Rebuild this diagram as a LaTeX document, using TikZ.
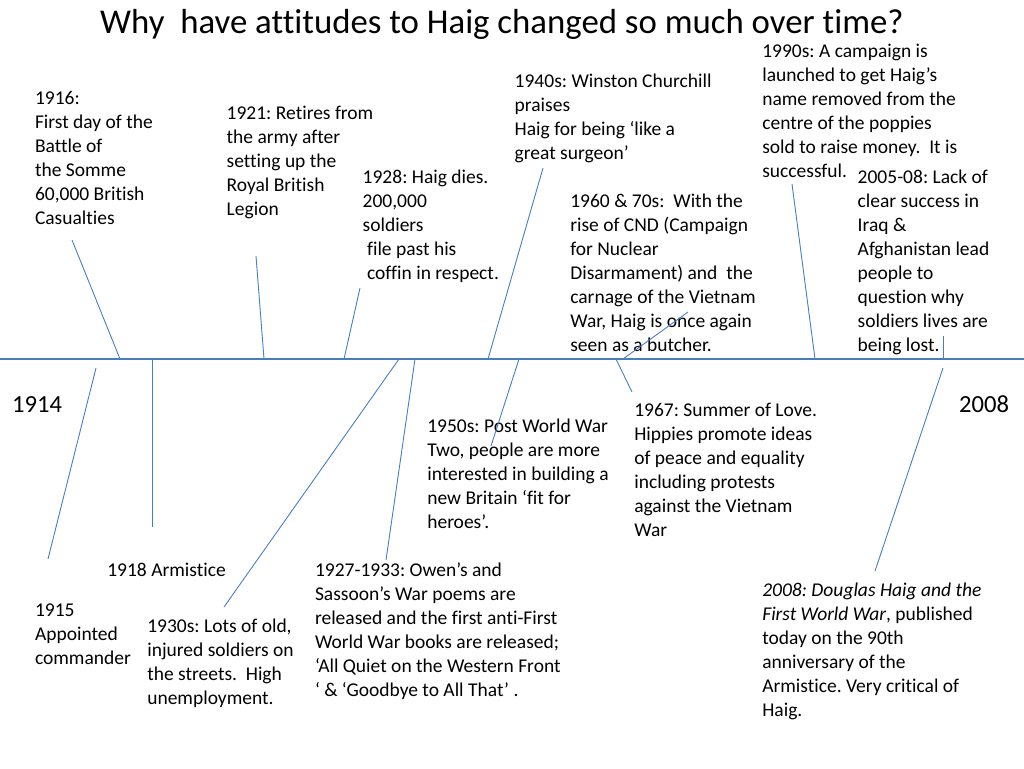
\documentclass[tikz,border=0pt]{standalone}
\usepackage{fontspec}
\setmainfont{Carlito}[RawFeature={-liga}]
\frenchspacing
\definecolor{tl}{RGB}{74,126,187}
\tikzset{
  lbl/.style={anchor=north west, inner sep=0pt, outer sep=0pt, align=left, font=\fontsize{19.5}{24}\selectfont},
  yr/.style={anchor=base west, inner sep=0pt, font=\fontsize{24.6}{30}\selectfont},
  conn/.style={draw=tl, line width=0.9pt},
  axis/.style={draw=tl, line width=1.6pt}
}
\begin{document}
\begin{tikzpicture}[x=1pt,y=-1pt]
\useasboundingbox (0,0) rectangle (1024,768);
% title
\node[anchor=base west, inner sep=0pt, font=\fontsize{34.8}{40}\selectfont] (title) at (100,34) {Why\ \ have attitudes to Haig changed so much over time?};
% timeline
\coordinate (L) at (0,359);
\coordinate (R) at (1024,359);
\draw[axis] (L) -- (R);
% year labels
\node[yr] (y1914) at (12,412) {1914};
\node[yr] (y2008) at (959,412) {2008};
% text blocks (top = first baseline - 16.8)
\node[lbl] (t1916) at (35,87.2) {\strut 1916:\\First day of the\\Battle of\\the Somme\\60,000 British\\Casualties};
\node[lbl] (t1921) at (226.7,102.2) {\strut 1921: Retires from\\the army after\\setting up the\\Royal British\\Legion};
\node[lbl] (t1928) at (362.7,166.2) {\strut 1928: Haig dies.\\200,000\\soldiers\\\ file past his\\\ coffin in respect.};
\node[lbl] (t1940) at (514.7,70.2) {\strut 1940s: Winston Churchill\\praises\\Haig for being ‘like a\\great surgeon’};
\node[lbl] (t1990) at (762.3,43.6) {1990s: A campaign is\\launched to get Haig’s\\name removed from the\\centre of the poppies\\sold to raise money.\ \ It is\\successful.};
\node[lbl] (t2005) at (857.7,166.2) {\strut 2005-08: Lack of\\clear success in\\Iraq \&\\Afghanistan lead\\people to\\question why\\soldiers lives are\\being lost.};
\node[lbl] (t1960) at (570.3,190.2) {\strut 1960 \& 70s:\ \ With the\\rise of CND (Campaign\\for Nuclear\\Disarmament) and\ \ the\\carnage of the Vietnam\\War, Haig is once again\\seen as a butcher.};
\node[lbl] (t1950) at (427.3,415.2) {\strut 1950s: Post World War\\Two, people are more\\interested in building a\\new Britain ‘fit for\\heroes’.};
\node[lbl] (t1967) at (634.3,399.2) {\strut 1967: Summer of Love.\\Hippies promote ideas\\of peace and equality\\including protests\\against the Vietnam\\War};
\node[lbl] (t1918) at (107.3,559.2) {\strut 1918 Armistice};
\node[lbl] (t1915) at (35,599.2) {\strut 1915\\Appointed\\commander};
\node[lbl] (t1930) at (147.3,615.2) {\strut 1930s: Lots of old,\\injured soldiers on\\the streets.\ \ High\\unemployment.};
\node[lbl] (t1927) at (315,559.2) {\strut 1927-1933: Owen’s and\\Sassoon’s War poems are\\released and the first anti-First\\World War books are released;\\‘All Quiet on the Western Front\\‘ \& ‘Goodbye to All That’ .};
\node[lbl] (t2008) at (762.3,579.2) {\strut\textit{2008: Douglas Haig and the}\\\textit{First World War}, published\\today on the 90th\\anniversary of the\\Armistice. Very critical of\\Haig.};
% connector end points
\coordinate (a1) at (72,240);   \coordinate (b1) at (120,359);
\coordinate (a2) at (256,256);  \coordinate (b2) at (264,359);
\coordinate (a3) at (360,288);  \coordinate (b3) at (344,359);
\coordinate (a4) at (543,168);  \coordinate (b4) at (488,359);
\coordinate (a5) at (688,312);  \coordinate (b5) at (623,359);
\coordinate (a6) at (792,184);  \coordinate (b6) at (815,359);
\coordinate (a7) at (943,336);  \coordinate (b7) at (943,359);
\coordinate (a8) at (943,368);  \coordinate (b8) at (875,571);
\coordinate (a9) at (96,368);   \coordinate (b9) at (48,559);
\coordinate (a10) at (152,359); \coordinate (b10) at (152,527);
\coordinate (a11) at (399,359); \coordinate (b11) at (224,607);
\coordinate (a12) at (415,359); \coordinate (b12) at (386,560);
\coordinate (a13) at (519,359); \coordinate (b13) at (491,446);
\coordinate (a14) at (616,359); \coordinate (b14) at (632,392);
\foreach \i in {1,...,14} { \draw[conn] (a\i) -- (b\i); }
\end{tikzpicture}
\end{document}
